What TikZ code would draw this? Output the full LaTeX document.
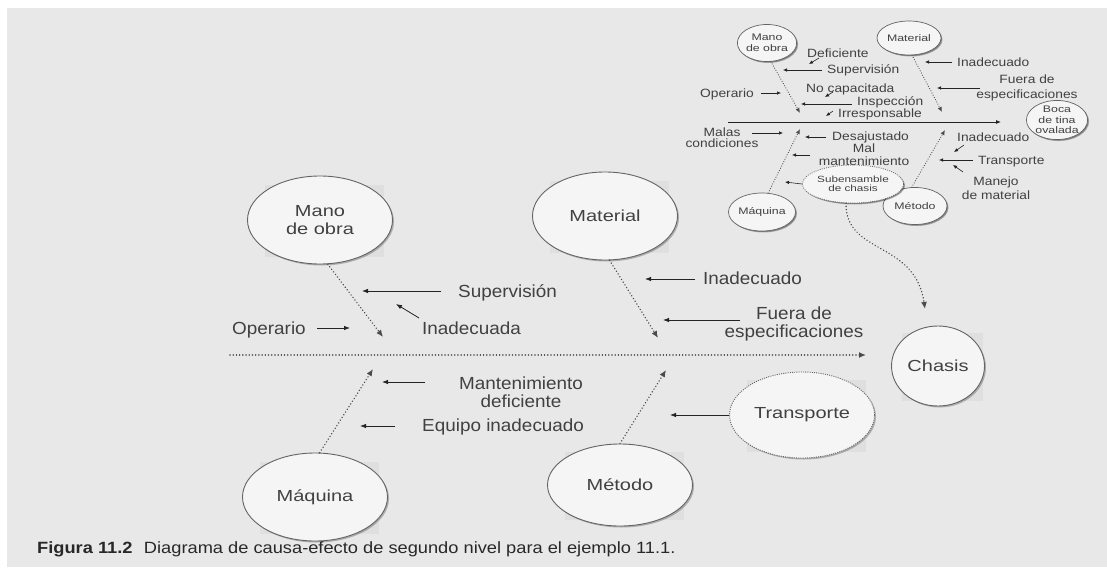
\documentclass[tikz,border=0pt]{standalone}
\usepackage{fontspec}
\setmainfont{Liberation Sans}
\newfontfamily\lblfont{Liberation Sans}[FakeStretch=1.08]
\newfontfamily\circfont{Liberation Sans}[FakeStretch=1.25]
\newfontfamily\smfont{Liberation Sans}[FakeStretch=1.15]
\newfontfamily\scircfont{Liberation Sans}[FakeStretch=1.3]
\newfontfamily\capfont{Liberation Sans}[FakeStretch=1.12]
\usetikzlibrary{shapes.geometric,arrows.meta,backgrounds,shadows}
\definecolor{bgc}{RGB}{232,232,232}
\definecolor{sqc}{RGB}{223,223,223}
\definecolor{cfill}{RGB}{245,245,245}
\definecolor{cborder}{RGB}{100,100,100}
\definecolor{ctext}{RGB}{65,65,65}
\definecolor{carrow}{RGB}{35,35,35}
\definecolor{cdot}{RGB}{75,75,75}
\definecolor{ccap}{RGB}{40,40,40}
\begin{document}
\begin{tikzpicture}[x=1pt,y=-1pt,
 big/.style={ellipse, draw=cborder, line width=0.9pt, fill=cfill, inner sep=0pt, align=center, text=ctext,
   font=\circfont\fontsize{16}{18}\selectfont,
   drop shadow={shadow xshift=1.5pt,shadow yshift=-1.5pt,opacity=0.25,fill=black}},
 dotcirc/.style={dash pattern=on 1pt off 1.2pt},
 small/.style={big, line width=0.7pt, font=\scircfont\fontsize{9.5}{10.5}\selectfont,
   drop shadow={shadow xshift=1pt,shadow yshift=-1pt,opacity=0.25,fill=black}},
 lbl/.style={inner sep=0pt, text=ctext, font=\lblfont\fontsize{17.5}{17.5}\selectfont, align=center},
 slbl/.style={inner sep=0pt, text=ctext, font=\smfont\fontsize{12}{13}\selectfont, align=center},
 arr/.style={draw=carrow, line width=0.8pt, -{Latex[length=6pt,width=4.5pt]}},
 sarr/.style={draw=carrow, line width=0.6pt, -{Latex[length=4pt,width=3.5pt]}},
 bone/.style={draw=cdot, line width=1.6pt, dash pattern=on 0.01pt off 3.2pt, line cap=round, -{Latex[length=7pt,width=6pt]}},
 sbone/.style={draw=cdot, line width=1.2pt, dash pattern=on 0.01pt off 2.5pt, line cap=round, -{Latex[length=5pt,width=4.5pt]}},
 sq/.style={fill=sqc, draw=none}
]
\useasboundingbox (0,0) rectangle (1107,567);

% ---------- main circles ----------
\node[big, minimum width=145pt, minimum height=88pt] (mano) at (320,220) {Mano\\de obra};
\node[big, minimum width=145pt, minimum height=88pt] (mat) at (605,216) {Material};
\node[big, minimum width=145pt, minimum height=88pt] (maq) at (315,497) {Máquina};
\node[big, minimum width=145pt, minimum height=82pt] (met) at (620,485) {Método};
\node[big, dotcirc, minimum width=145pt, minimum height=86pt] (transp) at (802,415) {Transporte};
\node[big, minimum width=93pt, minimum height=80pt] (chasis) at (938,366) {Chasis};

% ---------- main bones ----------
\coordinate (spineS) at (230,355);
\coordinate (spineE) at (866,355);
\coordinate (manoTip) at (383,337);
\coordinate (matTip) at (658,338);
\coordinate (maqTip) at (373,369);
\coordinate (metTip) at (666,370);
\coordinate (chTip) at (925,309);
\draw[bone] (spineS) -- (spineE);
\draw[bone] (mano.-80) -- (manoTip);
\draw[bone] (mat.-84) -- (matTip);
\draw[bone] (maq.84) -- (maqTip);
\draw[bone] (met.90) -- (metTip);

% ---------- main labels ----------
\node[lbl, anchor=base west] (lSup) at (458,297) {Supervisión};
\node[lbl, anchor=base west] (lInada) at (422,334) {Inadecuada};
\node[lbl, anchor=base west] (lOper) at (232,334) {Operario};
\node[lbl, anchor=base west] (lInado) at (703,284) {Inadecuado};
\node[lbl] (lFuera) at (794,324) {Fuera de\\especificaciones};
\node[lbl] (lMant) at (521,392) {Mantenimiento\\deficiente};
\node[lbl, anchor=base west] (lEq) at (422,431) {Equipo inadecuado};

\coordinate (aSupS) at (441,291); \coordinate (aSupE) at (362,291);
\coordinate (aInaS) at (419,318); \coordinate (aInaE) at (396,304);
\coordinate (aOpS) at (317,328); \coordinate (aOpE) at (350,328);
\coordinate (aIndS) at (695,279); \coordinate (aIndE) at (645,279);
\coordinate (aFuS) at (740,320); \coordinate (aFuE) at (663,320);
\coordinate (aMaS) at (425,382); \coordinate (aMaE) at (382,382);
\coordinate (aEqS) at (395,426); \coordinate (aEqE) at (360,426);
\coordinate (aTrE) at (670,415);
\draw[arr] (aSupS) -- (aSupE);
\draw[arr] (aInaS) -- (aInaE);
\draw[arr] (aOpS) -- (aOpE);
\draw[arr] (aIndS) -- (aIndE);
\draw[arr] (aFuS) -- (aFuE);
\draw[arr] (aMaS) -- (aMaE);
\draw[arr] (aEqS) -- (aEqE);
\draw[arr] (transp.west) -- (aTrE);

% ---------- small diagram ----------
\node[small, minimum width=57pt, minimum height=37pt] (smano) at (767,43) {Mano\\de obra};
\node[small, minimum width=64pt, minimum height=34pt] (smat) at (909,38) {Material};
\node[small, minimum width=56pt, minimum height=36pt] (sboca) at (1057,120) {Boca\\de tina\\ovalada};
\node[small, minimum width=62pt, minimum height=38pt] (smaq) at (762,212) {Máquina};
\node[small, minimum width=64pt, minimum height=37pt] (smet) at (915,206) {Método};
\node[small, dotcirc, minimum width=66pt, minimum height=38pt, font=\scircfont\fontsize{9}{9.5}\selectfont] (subens) at (853,184) {Subensamble\\de chasis};

\coordinate (sSpS) at (728,122);
\coordinate (sSpE) at (1001,122);
\draw[draw=carrow, line width=0.8pt, -{Latex[length=5pt,width=4pt]}] (sSpS) -- (sSpE);
\coordinate (smanoTip) at (800,113);
\coordinate (smatTip) at (942,112);
\coordinate (smaqTip) at (800,129);
\coordinate (smetTip) at (945,130);
\draw[sbone] (smano.-78) -- (smanoTip);
\draw[sbone] (smat.-80) -- (smatTip);
\draw[sbone] (smaq.72) -- (smaqTip);
\draw[sbone] (smet.100) -- (smetTip);
\draw[bone] (subens.250) .. controls (845,255) and (915,240) .. (chTip);

\node[slbl, anchor=base west] (sDef) at (807,57.5) {Deficiente};
\node[slbl, anchor=base west] (sSup) at (827,73.5) {Supervisión};
\node[slbl, anchor=base east] (sOp) at (754,97.5) {Operario};
\node[slbl, anchor=base west] (sNoc) at (806,92.5) {No capacitada};
\node[slbl, anchor=base west] (sInsp) at (857,105.5) {Inspección};
\node[slbl, anchor=base west] (sIrr) at (838,117.5) {Irresponsable};
\node[slbl, font=\smfont\fontsize{12}{11}\selectfont] (sMalas) at (722,138) {Malas\\condiciones};
\node[slbl, anchor=base west] (sDes) at (832,140.5) {Desajustado};
\node[slbl, font=\smfont\fontsize{12}{13}\selectfont] (sMal) at (864,155) {Mal\\mantenimiento};
\node[slbl, anchor=base west] (sInd1) at (957,66.5) {Inadecuado};
\node[slbl, font=\smfont\fontsize{12}{15}\selectfont] (sFuera) at (1027,88) {Fuera de\\especificaciones};
\node[slbl, anchor=base west] (sInd2) at (957,141.5) {Inadecuado};
\node[slbl, anchor=base west] (sTra) at (978,164.5) {Transporte};
\node[slbl, font=\smfont\fontsize{12}{14}\selectfont] (sMan) at (996,188) {Manejo\\de material};

\coordinate (bDefS) at (819,58); \coordinate (bDefE) at (809,64);
\coordinate (bSupS) at (822,70); \coordinate (bSupE) at (783,70);
\coordinate (bOpS) at (761,93); \coordinate (bOpE) at (781,93);
\coordinate (bNoS) at (833,92); \coordinate (bNoE) at (825,97);
\coordinate (bInS) at (852,104); \coordinate (bInE) at (801,104);
\coordinate (bIrS) at (833,111); \coordinate (bIrE) at (826,116);
\coordinate (bMaS) at (752,133); \coordinate (bMaE) at (783,133);
\coordinate (bDeS) at (826,137); \coordinate (bDeE) at (805,137);
\coordinate (bMtS) at (810,155); \coordinate (bMtE) at (792,155);
\coordinate (bSuE) at (785,182);
\coordinate (bI1S) at (952,62); \coordinate (bI1E) at (925,62);
\coordinate (bFuS) at (980,88); \coordinate (bFuE) at (937,88);
\coordinate (bI2S) at (964,145); \coordinate (bI2E) at (954,152);
\coordinate (bTrS) at (973,160); \coordinate (bTrE) at (939,160);
\coordinate (bMjS) at (963,172); \coordinate (bMjE) at (953,165);
\draw[sarr] (bDefS) -- (bDefE);
\draw[sarr] (bSupS) -- (bSupE);
\draw[sarr] (bOpS) -- (bOpE);
\draw[sarr] (bNoS) -- (bNoE);
\draw[sarr] (bInS) -- (bInE);
\draw[sarr] (bIrS) -- (bIrE);
\draw[sarr] (bMaS) -- (bMaE);
\draw[sarr] (bDeS) -- (bDeE);
\draw[sarr] (bMtS) -- (bMtE);
\draw[sarr] (subens.west) -- (bSuE);
\draw[sarr] (bI1S) -- (bI1E);
\draw[sarr] (bFuS) -- (bFuE);
\draw[sarr] (bI2S) -- (bI2E);
\draw[sarr] (bTrS) -- (bTrE);
\draw[sarr] (bMjS) -- (bMjE);

% ---------- caption ----------
\node[anchor=base west, inner sep=0pt, text=ccap, font=\capfont\fontsize{16.3}{18}\selectfont] (cap) at (37,553.5)
  {\textbf{Figura 11.2}\hspace{0.7em}Diagrama de causa-efecto de segundo nivel para el ejemplo 11.1.};

% ---------- background ----------
\begin{scope}[on background layer]
\fill[white] (0,0) rectangle (1107,567);
\fill[bgc] (7,8) rectangle (1107,567);
\foreach \n in {mano,mat,maq,met,transp,chasis}{
  \fill[sq] ([shift={(-3,-4)}]\n.north west) rectangle ([shift={(12,6)}]\n.south east);
}
\end{scope}
\end{tikzpicture}
\end{document}
